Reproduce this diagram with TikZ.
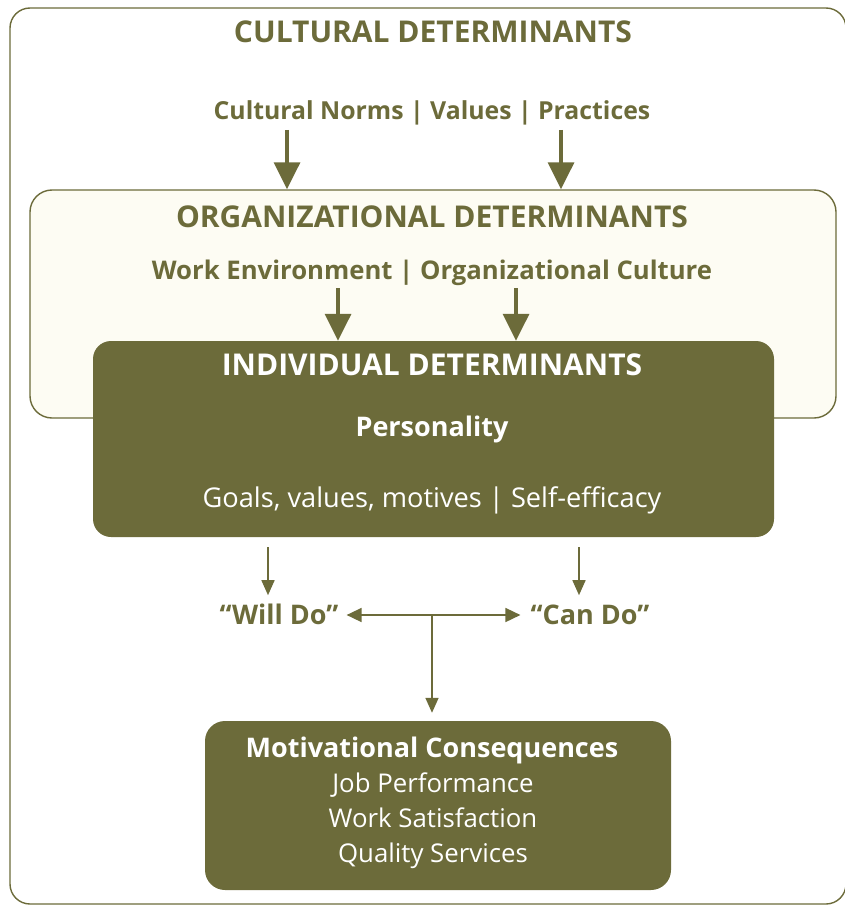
\documentclass[tikz,border=0pt]{standalone}
\usepackage{fontspec}
\setmainfont{Open Sans}
\usetikzlibrary{arrows.meta,calc}
\definecolor{olivec}{RGB}{108,107,58}
\definecolor{creamc}{RGB}{253,252,243}
\begin{document}
\begin{tikzpicture}[x=1pt,y=-1pt,
  bigarrow/.style={draw=olivec, line width=3.5pt, -{Triangle[width=26pt,length=27pt]}},
  smallarrow/.style={draw=olivec, line width=1.6pt, -{Triangle[width=13pt,length=15pt]}},
  hdr/.style={font=\fontsize{30}{32}\selectfont\bfseries, inner sep=0pt, anchor=base},
  sub/.style={inner sep=0pt, anchor=base},
  boxshape/.style={rectangle, inner sep=0pt, anchor=center},
]
\useasboundingbox (0,0) rectangle (844,907);
% boxes
\node[boxshape, draw=olivec, line width=1.4pt, rounded corners=20pt, minimum width=836pt, minimum height=896pt] (outer) at (428,456) {};
\node[boxshape, draw=olivec, fill=creamc, line width=1.4pt, rounded corners=22pt, minimum width=806pt, minimum height=228pt] (org) at (433,304) {};
\node[boxshape, fill=olivec, rounded corners=18pt, minimum width=681pt, minimum height=196pt] (ind) at (433.5,439) {};
\node[boxshape, fill=olivec, rounded corners=20pt, minimum width=466pt, minimum height=169pt] (mot) at (438,805.5) {};
% texts
\node[hdr, text=olivec] (cultt) at (433,43) {CULTURAL DETERMINANTS};
\node[sub, text=olivec, font=\fontsize{24.8}{26}\selectfont\bfseries] (cultn) at (432,119) {Cultural Norms | Values | Practices};
\node[hdr, text=olivec] (orgt) at (432,227) {ORGANIZATIONAL DETERMINANTS};
\node[sub, text=olivec, font=\fontsize{25.7}{27}\selectfont\bfseries] (orgn) at (432,279) {Work Environment | Organizational Culture};
\node[hdr, text=white] (indt) at (432,375) {INDIVIDUAL DETERMINANTS};
\node[sub, text=white, font=\fontsize{27}{29}\selectfont\bfseries] (pers) at (432,436) {Personality};
\node[sub, text=white, font=\fontsize{27.2}{29}\selectfont] (goals) at (432,507) {Goals, values, motives | Self-efficacy};
\node[sub, text=olivec, font=\fontsize{27}{29}\selectfont\bfseries] (will) at (279,624) {“Will Do”};
\node[sub, text=olivec, font=\fontsize{27}{29}\selectfont\bfseries] (can) at (590,624) {“Can Do”};
\node[sub, text=white, font=\fontsize{27}{29}\selectfont\bfseries] (motc) at (432,757) {Motivational Consequences};
\node[sub, text=white, font=\fontsize{25.8}{28}\selectfont] (jobp) at (433,792) {Job Performance};
\node[sub, text=white, font=\fontsize{25.8}{28}\selectfont] (works) at (433,827) {Work Satisfaction};
\node[sub, text=white, font=\fontsize{25.8}{28}\selectfont] (quals) at (433,862) {Quality Services};
\coordinate (tj) at (432,615);
% arrows
\draw[bigarrow] ($(cultn.south -| 287,0)+(0,5)$) -- (org.north -| 287,0);
\draw[bigarrow] ($(cultn.south -| 561,0)+(0,5)$) -- (org.north -| 561,0);
\draw[bigarrow] ($(orgn.south -| 338,0)+(0,3)$) -- (ind.north -| 338,0);
\draw[bigarrow] ($(orgn.south -| 516,0)+(0,3)$) -- (ind.north -| 516,0);
\draw[smallarrow] ($(ind.south -| 268,0)+(0,10)$) -- ++(0,48);
\draw[smallarrow] ($(ind.south -| 579,0)+(0,10)$) -- ++(0,48);
\draw[smallarrow, {Triangle[width=14pt,length=15pt]}-{Triangle[width=14pt,length=15pt]}] ($(will.east |- tj)+(8,0)$) -- ($(can.west |- tj)+(-10,0)$);
\draw[smallarrow, shorten >=8pt] (tj) -- (mot.north -| tj);
\end{tikzpicture}
\end{document}
